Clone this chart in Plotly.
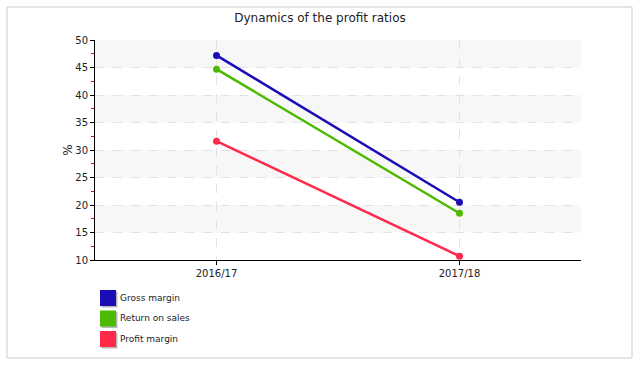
import plotly.graph_objects as go

categories = ["2016/17", "2017/18"]
gross_margin = [47.2, 20.5]
return_on_sales = [44.7, 18.5]
profit_margin = [31.6, 10.7]
series_names = ["Gross margin", "Return on sales", "Profit margin"]
colors = ["#1a0db5", "#4cbb00", "#ff2a4a"]

W, H = 640, 365
ml, mr, mt, mb = 95, 59, 40, 105
pw, ph = W - ml - mr, H - mt - mb


def px_x(x):
    return (x - ml) / pw


def px_y(y):
    return (H - mb - y) / ph


fig = go.Figure()
for name, vals, col in zip(series_names, [gross_margin, return_on_sales, profit_margin], colors):
    fig.add_trace(go.Scatter(x=categories, y=vals, mode="lines+markers", name=name,
                             line=dict(color=col, width=2.5), marker=dict(color=col, size=7),
                             showlegend=False))

shapes = []
annotations = []
for lo in [45, 35, 25, 15]:
    shapes.append(dict(type="rect", xref="paper", yref="y", x0=0, x1=1, y0=lo, y1=lo + 5,
                       fillcolor="#f7f7f7", line=dict(width=0), layer="below"))
shapes.append(dict(type="rect", xref="paper", yref="paper",
                   x0=px_x(7), x1=px_x(632), y0=px_y(358), y1=px_y(7),
                   line=dict(color="#cccccc", width=1), fillcolor="rgba(0,0,0,0)"))

# manual legend
for i, (name, col) in enumerate(zip(series_names, colors)):
    top = 290 + i * 20.5
    shapes.append(dict(type="rect", xref="paper", yref="paper",
                       x0=px_x(101.5), x1=px_x(117.5), y0=px_y(top + 17.5), y1=px_y(top + 1.5),
                       fillcolor="#b8b8b8", line=dict(width=0)))
    shapes.append(dict(type="rect", xref="paper", yref="paper",
                       x0=px_x(100), x1=px_x(116), y0=px_y(top + 16), y1=px_y(top),
                       fillcolor=col, line=dict(width=0)))
    annotations.append(dict(text=name, xref="paper", yref="paper", x=px_x(118),
                            y=px_y(top + 7.5), xanchor="left", yanchor="middle",
                            showarrow=False, font=dict(size=9, color="#222222")))

fig.update_layout(
    width=W, height=H,
    margin=dict(l=ml, r=mr, t=mt, b=mb),
    paper_bgcolor="white", plot_bgcolor="white",
    font=dict(family="DejaVu Sans", size=10, color="#222222"),
    title=dict(text="Dynamics of the profit ratios", x=0.5, xanchor="center",
               y=1 - 18 / H, yanchor="middle", font=dict(size=12, color="#222222")),
    shapes=shapes,
    annotations=annotations,
    showlegend=False,
)
fig.update_xaxes(range=[-0.5, 1.5], showline=True, linecolor="black", linewidth=1,
                 ticks="outside", ticklen=4, tickcolor="black",
                 showgrid=True, gridcolor="#e2e2e2", griddash="dash", gridwidth=1,
                 zeroline=False, fixedrange=True)
fig.update_yaxes(range=[10, 50], dtick=5, showline=True, linecolor="black", linewidth=1,
                 ticks="outside", ticklen=4, tickcolor="black",
                 showgrid=True, gridcolor="#e2e2e2", griddash="dash", gridwidth=1,
                 zeroline=False, fixedrange=True,
                 title=dict(text="%", standoff=0),
                 minor=dict(dtick=5, tick0=12.5, ticks="outside", ticklen=3, tickcolor="red",
                            showgrid=False))
fig.write_html("out.html", config={"displayModeBar": False},
               post_script="document.body.style.margin='0';document.body.style.overflow='hidden';")
